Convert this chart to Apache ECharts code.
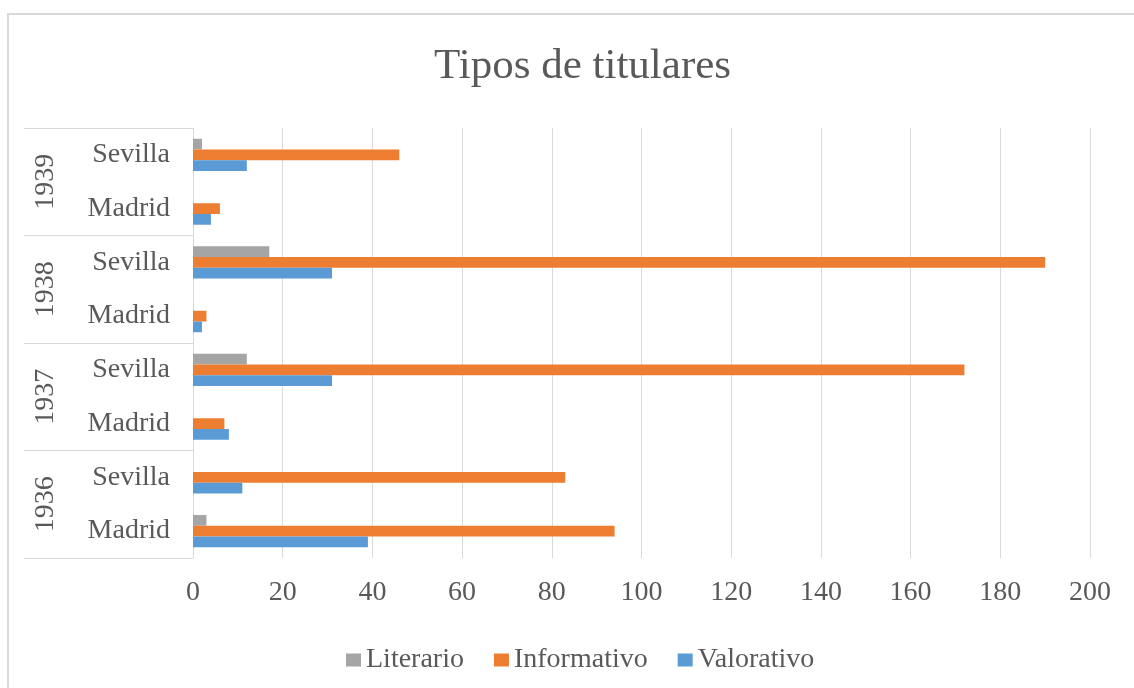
<!DOCTYPE html>
<html>
<head>
<meta charset="utf-8">
<script src="https://cdn.jsdelivr.net/npm/echarts@6/dist/echarts.min.js"></script>
<style>
html,body{margin:0;padding:0;background:#fff;}
#frame{position:absolute;left:7px;top:13px;width:1140px;height:700px;border-top:2px solid #d9d9d9;border-left:2px solid #d9d9d9;box-sizing:border-box;}
#chart{position:absolute;left:0;top:0;width:1134px;height:688px;}
</style>
</head>
<body>
<div id="frame"></div>
<div id="chart"></div>
<script>
const cities = ['Madrid','Sevilla','Madrid','Sevilla','Madrid','Sevilla','Madrid','Sevilla'];
const years = ['1936','1937','1938','1939'];
const seriesNames = ['Literario','Informativo','Valorativo'];
const literario = [3,0,0,12,0,17,0,2];
const informativo = [94,83,7,172,3,190,6,46];
const valorativo = [39,11,8,31,2,31,4,12];
const xTicks = {min:0, max:200, interval:20};

const font = 'Liberation Serif, Times New Roman, serif';
const txt = '#595959';
const grid = '#d9d9d9';
const chart = echarts.init(document.getElementById('chart'), null, {renderer:'canvas'});
chart.setOption({
  animation:false,
  backgroundColor:'transparent',
  title:{text:'Tipos de titulares', left:429, top:40, textStyle:{fontFamily:font, fontSize:43, fontWeight:'normal', color:txt}},
  legend:{data:seriesNames, left:341, top:641, icon:'rect', itemWidth:15, itemHeight:13, itemGap:30,
    textStyle:{fontFamily:font, fontSize:28, color:txt}},
  grid:{left:193, right:44, top:128, bottom:130, containLabel:false},
  xAxis:{type:'value', min:xTicks.min, max:xTicks.max, interval:xTicks.interval,
    axisLine:{show:false}, axisTick:{show:false},
    splitLine:{lineStyle:{color:grid, width:1}},
    axisLabel:{fontFamily:font, fontSize:28, color:txt, margin:21}},
  yAxis:[
    {type:'category', data:cities, position:'left',
      axisLine:{show:true, lineStyle:{color:grid}}, axisTick:{show:false},
      axisLabel:{fontFamily:font, fontSize:28, color:txt, margin:23, padding:[5,0,0,0]}},
    {type:'category', data:years, position:'left', offset:0,
      axisLine:{show:false},
      axisTick:{show:true, length:169, interval:0, lineStyle:{color:grid}},
      axisLabel:{fontFamily:font, fontSize:28, color:txt, rotate:90, margin:147, align:'center', verticalAlign:'middle'}}
  ],
  series:[
    {name:seriesNames[0], type:'bar', yAxisIndex:0, data:literario, itemStyle:{color:'#A5A5A5'}, barGap:'0%', barCategoryGap:'40%'},
    {name:seriesNames[1], type:'bar', yAxisIndex:0, data:informativo, itemStyle:{color:'#ED7D31'}, barGap:'0%', barCategoryGap:'40%'},
    {name:seriesNames[2], type:'bar', yAxisIndex:0, data:valorativo, itemStyle:{color:'#5B9BD5'}, barGap:'0%', barCategoryGap:'40%'}
  ]
});
</script>
</body>
</html>
